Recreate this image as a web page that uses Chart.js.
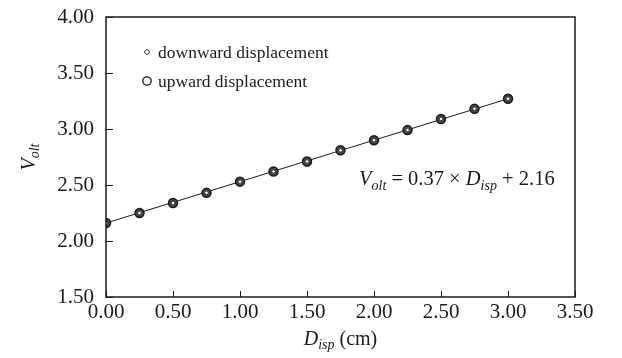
<!DOCTYPE html>
<html>
<head>
<meta charset="utf-8">
<script src="https://cdn.jsdelivr.net/npm/chart.js@4/dist/chart.umd.min.js"></script>
<style>
  html, body { margin: 0; padding: 0; background: #fff; }
  #wrap { width: 622px; height: 358px; }
</style>
</head>
<body>
<div id="wrap"><canvas id="voltChart" width="622" height="358"></canvas></div>
<script>
// data
const dispValues = [0, 0.25, 0.5, 0.75, 1.0, 1.25, 1.5, 1.75, 2.0, 2.25, 2.5, 2.75, 3.0];
const downVolt = [2.16, 2.25, 2.34, 2.43, 2.53, 2.62, 2.71, 2.81, 2.90, 2.99, 3.09, 3.18, 3.27];
const upVolt   = [2.16, 2.25, 2.34, 2.43, 2.53, 2.62, 2.71, 2.81, 2.90, 2.99, 3.09, 3.18, 3.27];
const fitX = [0, 3.0];
const fitY = [2.16, 3.27];
const xTickValues = [0, 0.5, 1.0, 1.5, 2.0, 2.5, 3.0, 3.5];
const yTickValues = [1.5, 2.0, 2.5, 3.0, 3.5, 4.0];

const SERIF = '"Liberation Serif", "DejaVu Serif", serif';
const INK = '#1a1a1a';

function toPoints(xs, ys) {
    return xs.map((x, i) => ({ x: x, y: ys[i] }));
}

// draws a run of text parts, some italic, some as subscripts
function drawParts(ctx, x, y, parts, size) {
    let cx = x;
    parts.forEach(p => {
        const fs = p.sub ? Math.round(size * 0.68) : size;
        ctx.font = (p.italic ? 'italic ' : '') + fs + 'px ' + SERIF;
        ctx.fillText(p.t, cx, y + (p.sub ? size * 0.22 : 0));
        cx += ctx.measureText(p.t).width;
    });
    return cx - x;
}
function partsWidth(ctx, parts, size) {
    let w = 0;
    parts.forEach(p => {
        const fs = p.sub ? Math.round(size * 0.68) : size;
        ctx.font = (p.italic ? 'italic ' : '') + fs + 'px ' + SERIF;
        w += ctx.measureText(p.t).width;
    });
    return w;
}

function drawCircleMark(ctx, x, y) {
    ctx.beginPath();
    ctx.arc(x, y, 4.2, 0, Math.PI * 2);
    ctx.fillStyle = '#fff';
    ctx.fill();
    ctx.lineWidth = 1.3;
    ctx.strokeStyle = INK;
    ctx.stroke();
}
function drawDiamondMark(ctx, x, y) {
    const r = 2.8;
    ctx.beginPath();
    ctx.moveTo(x, y - r);
    ctx.lineTo(x + r, y);
    ctx.lineTo(x, y + r);
    ctx.lineTo(x - r, y);
    ctx.closePath();
    ctx.fillStyle = '#fff';
    ctx.fill();
    ctx.lineWidth = 1;
    ctx.strokeStyle = INK;
    ctx.stroke();
}

// frame, inward ticks, legend, equation, axis titles
const decorPlugin = {
    id: 'decor',
    afterDraw(chart) {
        const ctx = chart.ctx;
        const a = chart.chartArea;
        const xs = chart.scales.x;
        const ys = chart.scales.y;
        ctx.save();
        ctx.strokeStyle = INK;
        ctx.lineWidth = 1.5;
        ctx.strokeRect(a.left, a.top, a.right - a.left, a.bottom - a.top);

        ctx.lineWidth = 1;
        ctx.beginPath();
        xTickValues.forEach(v => {
            const px = Math.round(xs.getPixelForValue(v)) + 0.5;
            ctx.moveTo(px, a.bottom);
            ctx.lineTo(px, a.bottom - 6);
        });
        yTickValues.forEach(v => {
            const py = Math.round(ys.getPixelForValue(v)) + 0.5;
            ctx.moveTo(a.left, py);
            ctx.lineTo(a.left + 7, py);
        });
        ctx.stroke();

        // legend
        ctx.textBaseline = 'alphabetic';
        ctx.textAlign = 'left';
        drawDiamondMark(ctx, 147, 52);
        drawCircleMark(ctx, 147, 81);
        ctx.fillStyle = INK;
        ctx.font = '17.5px ' + SERIF;
        ctx.fillText('downward displacement', 158, 58);
        ctx.fillText('upward displacement', 158, 87);

        // equation
        drawParts(ctx, 359, 185, [
            { t: 'V', italic: true },
            { t: 'olt', italic: true, sub: true },
            { t: ' = 0.37 \u00d7 ' },
            { t: 'D', italic: true },
            { t: 'isp', italic: true, sub: true },
            { t: ' + 2.16' }
        ], 20.5);

        // x title
        const xParts = [
            { t: 'D', italic: true },
            { t: 'isp', italic: true, sub: true },
            { t: ' (cm)' }
        ];
        const xw = partsWidth(ctx, xParts, 20);
        drawParts(ctx, (a.left + a.right) / 2 - xw / 2, 345, xParts, 20);

        // y title
        const yParts = [
            { t: 'V', italic: true },
            { t: 'olt', italic: true, sub: true }
        ];
        const yw = partsWidth(ctx, yParts, 20);
        ctx.translate(35, 157);
        ctx.rotate(-Math.PI / 2);
        drawParts(ctx, -yw / 2, 0, yParts, 20);
        ctx.restore();
    }
};

const ctx = document.getElementById('voltChart').getContext('2d');
new Chart(ctx, {
    type: 'scatter',
    data: {
        datasets: [
            {
                label: 'fit',
                data: toPoints(fitX, fitY),
                showLine: true,
                borderColor: INK,
                borderWidth: 1,
                pointRadius: 0,
                order: 3
            },
            {
                label: 'upward displacement',
                data: toPoints(dispValues, upVolt),
                pointStyle: 'circle',
                pointRadius: 4.5,
                pointBackgroundColor: '#444',
                pointBorderColor: INK,
                pointBorderWidth: 1.5,
                order: 2
            },
            {
                label: 'downward displacement',
                data: toPoints(dispValues, downVolt),
                pointStyle: 'rectRot',
                pointRadius: 2,
                pointBackgroundColor: '#fff',
                pointBorderColor: '#333',
                pointBorderWidth: 0.8,
                order: 1
            }
        ]
    },
    options: {
        responsive: false,
        animation: false,
        devicePixelRatio: 1,
        layout: { padding: { top: 17, right: 47, left: 0, bottom: 0 } },
        plugins: {
            legend: { display: false },
            tooltip: { enabled: false }
        },
        scales: {
            x: {
                type: 'linear',
                min: 0,
                max: 3.5,
                afterBuildTicks: s => { s.ticks = xTickValues.map(v => ({ value: v })); },
                afterFit: s => { s.height = 61; s.paddingLeft = 0; s.paddingRight = 0; },
                grid: { display: false, drawTicks: false, tickLength: 0 },
                border: { display: false },
                ticks: {
                    padding: 3,
                    color: INK,
                    font: { family: SERIF, size: 21 },
                    callback: v => Number(v).toFixed(2)
                }
            },
            y: {
                type: 'linear',
                min: 1.5,
                max: 4.0,
                afterBuildTicks: s => { s.ticks = yTickValues.map(v => ({ value: v })); },
                afterFit: s => { s.width = 106; s.paddingTop = 0; s.paddingBottom = 0; },
                grid: { display: false, drawTicks: false, tickLength: 0 },
                border: { display: false },
                ticks: {
                    padding: 12,
                    color: INK,
                    font: { family: SERIF, size: 21 },
                    callback: v => Number(v).toFixed(2)
                }
            }
        }
    },
    plugins: [decorPlugin]
});
</script>
</body>
</html>
